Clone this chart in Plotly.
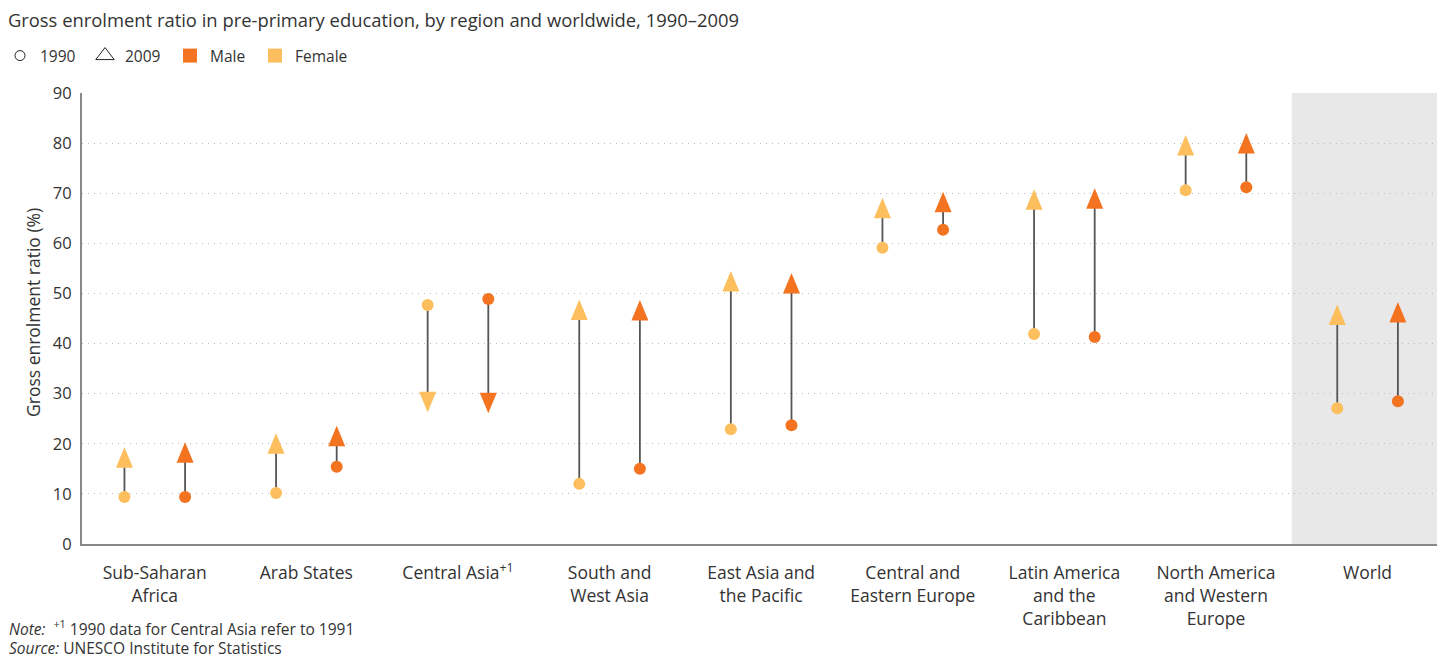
import plotly.graph_objects as go

regions = ["Sub-Saharan<br>Africa", "Arab States", "Central Asia<sup>+1</sup>", "South and<br>West Asia",
           "East Asia and<br>the Pacific", "Central and<br>Eastern Europe", "Latin America<br>and the<br>Caribbean",
           "North America<br>and Western<br>Europe", "World"]
female_1990 = [9.4, 10.2, 47.7, 12.0, 22.9, 59.1, 41.9, 70.6, 27.1]
female_2009 = [17.2, 20.0, 28.4, 46.7, 52.4, 67.0, 68.7, 79.5, 45.7]
male_1990 = [9.4, 15.4, 48.9, 15.0, 23.7, 62.7, 41.3, 71.2, 28.5]
male_2009 = [18.2, 21.5, 28.2, 46.6, 52.0, 68.2, 68.9, 79.9, 46.2]
y_ticks = [0, 10, 20, 30, 40, 50, 60, 70, 80, 90]

MALE = "#F37321"
FEMALE = "#FDBF5E"
FONT = "Open Sans"
TXT = "#333333"
OFF = 0.2

idx = list(range(len(regions)))
fx = [i - OFF for i in idx]
mx = [i + OFF for i in idx]

fig = go.Figure()

# world shading
fig.add_shape(type="rect", xref="x", yref="paper", x0=7.5, x1=8.7, y0=0, y1=1,
              fillcolor="#E8E8E8", line_width=0, layer="below")

def seg(xs, a, b):
    X, Y = [], []
    for x, y0, y1 in zip(xs, a, b):
        X += [x, x, None]
        Y += [y0, y1, None]
    return X, Y

for xs, a, b in [(fx, female_1990, female_2009), (mx, male_1990, male_2009)]:
    X, Y = seg(xs, a, b)
    fig.add_trace(go.Scatter(x=X, y=Y, mode="lines", line=dict(color="#555555", width=1.8),
                             showlegend=False, hoverinfo="skip"))

fig.add_trace(go.Scatter(x=fx, y=female_1990, mode="markers", marker=dict(size=12, color=FEMALE),
                         showlegend=False))
fig.add_trace(go.Scatter(x=mx, y=male_1990, mode="markers", marker=dict(size=12, color=MALE),
                         showlegend=False))

def tri(x, y0, y1, color):
    up = y1 >= y0
    if up:
        path = "M -8.5,-10 L 8.5,-10 L 0,10.5 Z"
    else:
        path = "M -8.5,10 L 8.5,10 L 0,-10.5 Z"
    fig.add_shape(type="path", xref="x", yref="y", xsizemode="pixel", ysizemode="pixel",
                  xanchor=x, yanchor=y1, path=path, fillcolor=color, line_width=0, layer="above")

for x, a, b in zip(fx, female_1990, female_2009):
    tri(x, a, b, FEMALE)
for x, a, b in zip(mx, male_1990, male_2009):
    tri(x, a, b, MALE)

# legend entries
fig.add_trace(go.Scatter(x=[None], y=[None], mode="markers", name="1990",
                         marker=dict(symbol="circle-open", size=10, color="#222", line=dict(width=1))))
fig.add_trace(go.Scatter(x=[None], y=[None], mode="markers", name="2009",
                         marker=dict(symbol="triangle-up-open", size=16, color="#222", line=dict(width=1))))
fig.add_trace(go.Scatter(x=[None], y=[None], mode="markers", name="Male",
                         marker=dict(symbol="square", size=14, color=MALE)))
fig.add_trace(go.Scatter(x=[None], y=[None], mode="markers", name="Female",
                         marker=dict(symbol="square", size=14, color=FEMALE)))
# spacer entry so the last legend label is not clipped
fig.add_trace(go.Scatter(x=[None], y=[None], mode="markers", name=" ",
                         marker=dict(symbol="square", size=1, color="rgba(0,0,0,0)")))

fig.update_layout(
    width=1437, height=659,
    margin=dict(l=82, r=0, t=93, b=115),
    paper_bgcolor="white", plot_bgcolor="white",
    font=dict(family=FONT, color=TXT, size=15),
    title=dict(text="Gross enrolment ratio in pre-primary education, by region and worldwide, 1990–2009",
               x=0.0055, xref="container", xanchor="left", y=0.969, yref="container", yanchor="middle",
               font=dict(size=18.4, family=FONT, color=TXT)),
    legend=dict(orientation="h", x=-0.0115, xref="container", xanchor="left", y=0.915, yref="container",
                yanchor="middle", font=dict(size=15.5, family=FONT, color=TXT),
                entrywidth=40, entrywidthmode="pixels", bgcolor="rgba(0,0,0,0)", itemclick=False),
    showlegend=True,
    xaxis=dict(range=[-0.48, 8.458], tickmode="array", tickvals=idx, ticktext=regions,
               showgrid=False, zeroline=False, showline=True, linecolor="#888888", linewidth=2,
               ticks="", ticklabelstandoff=12, tickfont=dict(size=17.5, family=FONT, color=TXT),
               fixedrange=True, automargin=False),
    yaxis=dict(range=[0, 90], tickmode="array", tickvals=y_ticks, showgrid=True,
               gridcolor="#BBBBBB", griddash="1px,5px", gridwidth=1, zeroline=False,
               showline=True, linecolor="#888888", linewidth=2, ticks="", ticklabelstandoff=5,
               tickfont=dict(size=16.5, family=FONT, color=TXT),
               fixedrange=True, automargin=False),
)

fig.add_annotation(text="Gross enrolment ratio (%)", textangle=-90,
                   xref="paper", yref="paper", x=(33 - 82) / 1355, y=(544 - 313) / 451,
                   xanchor="center", yanchor="middle", showarrow=False,
                   font=dict(size=17.5, family=FONT, color=TXT))
fig.add_annotation(text="<i>Note:</i>  <sup>+1</sup> 1990 data for Central Asia refer to 1991",
                   xref="paper", yref="paper", x=-82/1355, y=(544 - 628) / 451, xanchor="left", yanchor="middle",
                   showarrow=False, font=dict(size=15.5, family=FONT, color=TXT), xshift=8, borderpad=0)
fig.add_annotation(text="<i>Source:</i> UNESCO Institute for Statistics",
                   xref="paper", yref="paper", x=-82/1355, y=(544 - 648) / 451, xanchor="left", yanchor="middle",
                   showarrow=False, font=dict(size=15.5, family=FONT, color=TXT), xshift=8, borderpad=0)

fig.write_html("out.html", post_script="document.body.style.margin='0px';",
               config={"displayModeBar": False})
